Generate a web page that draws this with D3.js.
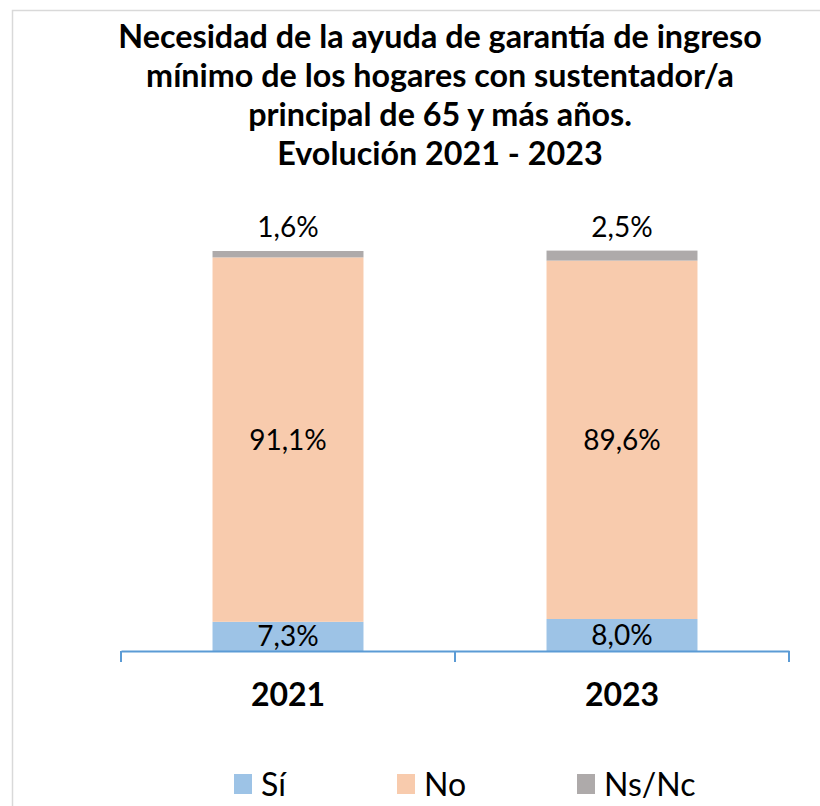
<!DOCTYPE html>
<html><head><meta charset="utf-8">
<script src="https://cdn.jsdelivr.net/npm/d3@7"></script>
<style>html,body{margin:0;padding:0;background:#fff;} svg{display:block;}</style>
</head><body>
<script>
const categories = ["2021", "2023"];
const series = ["Sí", "No", "Ns/Nc"];
const si = [7.3, 8.0];
const no = [91.1, 89.6];
const nsnc = [1.6, 2.5];
const labelsSi = ["7,3%", "8,0%"];
const labelsNo = ["91,1%", "89,6%"];
const labelsNsnc = ["1,6%", "2,5%"];
const titleLines = ["Necesidad de la ayuda de garantía de ingreso",
  "mínimo de los hogares con sustentador/a",
  "principal de 65 y más años.",
  "Evolución 2021 - 2023"];
const colors = ["#9DC3E6", "#F8CBAD", "#AEAAAA"];

const W = 820, H = 806;
const font = "Lato, 'Open Sans', sans-serif";
const svg = d3.select("body").append("svg").attr("width", W).attr("height", H);

svg.append("rect").attr("x", 12.5).attr("y", 10.5).attr("width", 830).attr("height", 830)
  .attr("fill", "#fff").attr("stroke", "#D9D9D9").attr("stroke-width", 1.5);

// title
svg.append("text").attr("font-family", font).attr("font-weight", "bold").attr("font-size", 32.3)
  .attr("text-anchor", "middle").attr("fill", "#000")
  .selectAll("tspan").data(titleLines).join("tspan")
  .attr("x", 440).attr("y", (d, i) => 47.5 + i * 39).text(d => d);

const x = d3.scaleBand().domain(categories).range([121, 789]).padding(0);
const y = d3.scaleLinear().domain([0, 100]).range([651, 251]);
const barW = x.bandwidth() * 0.452;

const rows = categories.map((c, i) => ({c, vals: [si[i], no[i], nsnc[i]], labels: [labelsSi[i], labelsNo[i], labelsNsnc[i]]}));
const stack = d3.stack().keys([0, 1, 2]).value((d, k) => d.vals[k]);
const stacked = stack(rows);

const g = svg.append("g");
stacked.forEach((layer, k) => {
  g.selectAll(null).data(layer).join("rect")
    .attr("x", d => x(d.data.c) + (x.bandwidth() - barW) / 2)
    .attr("width", barW)
    .attr("y", d => y(d[1]))
    .attr("height", d => y(d[0]) - y(d[1]))
    .attr("fill", colors[k]);
});

// labels
stacked.forEach((layer, k) => {
  g.selectAll(null).data(layer).join("text")
    .attr("x", d => x(d.data.c) + x.bandwidth() / 2)
    .attr("y", d => k === 2 ? y(d[1]) - 14 : (y(d[0]) + y(d[1])) / 2 + 10)
    .attr("text-anchor", "middle").attr("font-family", font).attr("font-size", 28).attr("fill", "#000")
    .text(d => d.data.labels[k]);
});

// axis
const axis = d3.axisBottom(x).tickSizeOuter(0).tickFormat("");
const ax = svg.append("g").attr("transform", "translate(0,651)").call(axis);
ax.select(".domain").attr("stroke", "#5B9BD5").attr("stroke-width", 2);
ax.selectAll(".tick").remove();
const tickPos = [x.range()[0], ...categories.slice(1).map(c => x(c)), x.range()[1]];
ax.selectAll(".tk").data(tickPos).join("line").attr("class", "tk")
  .attr("x1", d => d).attr("x2", d => d).attr("y1", 0).attr("y2", 11)
  .attr("stroke", "#5B9BD5").attr("stroke-width", 2);

svg.selectAll(".cat").data(categories).join("text").attr("class", "cat")
  .attr("x", d => x(d) + x.bandwidth() / 2).attr("y", 706)
  .attr("text-anchor", "middle").attr("font-family", font).attr("font-weight", "bold").attr("font-size", 32)
  .text(d => d);

// legend
const legX = [234, 397, 577];
const leg = svg.selectAll(".leg").data(series).join("g").attr("class", "leg")
  .attr("transform", (d, i) => `translate(${legX[i]},774)`);
leg.append("rect").attr("width", 18).attr("height", 20).attr("fill", (d, i) => colors[i]);
leg.append("text").attr("x", 27).attr("y", 22).attr("font-family", font).attr("font-size", 32).text(d => d);
</script>
</body></html>
